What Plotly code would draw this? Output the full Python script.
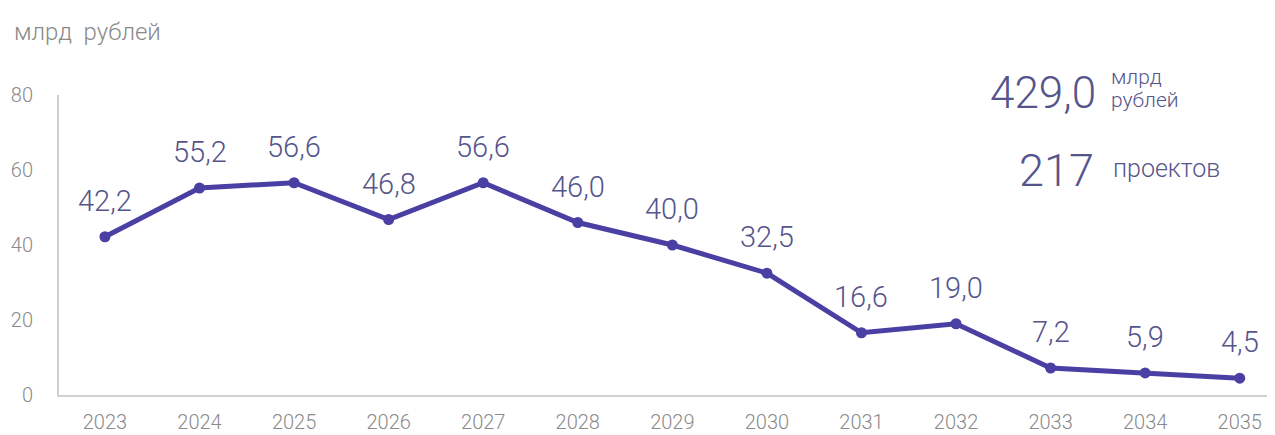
import plotly.graph_objects as go

years = [2023, 2024, 2025, 2026, 2027, 2028, 2029, 2030, 2031, 2032, 2033, 2034, 2035]
values = [42.2, 55.2, 56.6, 46.8, 56.6, 46.0, 40.0, 32.5, 16.6, 19.0, 7.2, 5.9, 4.5]
y_ticks = [0, 20, 40, 60, 80]
unit_title = "млрд  рублей"
total_value = "429,0"
total_unit_top = "млрд"
total_unit_bottom = "рублей"
projects_count = "217"
projects_label = "проектов"

LINE = "#4a3fa3"
LABEL = "#55558c"
TICK = "#8a8a8a"
FONT = "Roboto"

def fmt(v):
    return f"{v:.1f}".replace(".", ",")

fig = go.Figure()
fig.add_trace(go.Scatter(
    x=years, y=values, mode="lines+markers",
    line=dict(color=LINE, width=5),
    marker=dict(color=LINE, size=11),
    hoverinfo="skip", showlegend=False,
))

for x, v in zip(years, values):
    fig.add_annotation(x=x, y=v, text=fmt(v), showarrow=False, yshift=36,
                       font=dict(family=FONT, size=29, color=LABEL, weight=300))

fig.add_annotation(xref="paper", yref="paper", x=-0.039, y=1.0, yshift=63,
                   xanchor="left", yanchor="middle", text=unit_title, showarrow=False,
                   font=dict(family=FONT, size=24, color=TICK, weight=300))

fig.add_annotation(xref="paper", yref="paper", x=0.858, y=1.0, xanchor="right", yanchor="middle",
                   yshift=2, text=total_value, showarrow=False,
                   font=dict(family=FONT, size=44, color=LABEL, weight=300))
fig.add_annotation(xref="paper", yref="paper", x=0.867, y=1.0, xanchor="left", yanchor="middle",
                   yshift=18, text=total_unit_top, showarrow=False,
                   font=dict(family=FONT, size=21, color=LABEL, weight=300))
fig.add_annotation(xref="paper", yref="paper", x=0.867, y=1.0, xanchor="left", yanchor="middle",
                   yshift=-5, text=total_unit_bottom, showarrow=False,
                   font=dict(family=FONT, size=21, color=LABEL, weight=300))
fig.add_annotation(xref="paper", yref="paper", x=0.856, y=1.0, xanchor="right", yanchor="middle",
                   yshift=-75, text=projects_count, showarrow=False,
                   font=dict(family=FONT, size=45, color=LABEL, weight=300))
fig.add_annotation(xref="paper", yref="paper", x=0.869, y=1.0, xanchor="left", yanchor="middle",
                   yshift=-73, text=projects_label, showarrow=False,
                   font=dict(family=FONT, size=25, color=LABEL, weight=300))

# the page body adds an 8px offset, so the figure is sized/margined to compensate
fig.update_layout(
    width=1267, height=427,
    margin=dict(l=51, r=5, t=87, b=40, autoexpand=False),
    paper_bgcolor="white", plot_bgcolor="white",
    font=dict(family=FONT),
    xaxis=dict(range=[2022.514, 2035.32], tickmode="array", tickvals=years,
               ticktext=[str(y) for y in years], showgrid=False, zeroline=False,
               showline=True, linecolor="#d0d0d0", linewidth=2, ticks="",
               ticklabelstandoff=8, automargin=False,
               tickfont=dict(family=FONT, size=20, color=TICK, weight=300)),
    yaxis=dict(range=[0, 80], tickmode="array", tickvals=y_ticks, showgrid=False,
               zeroline=False, showline=True, linecolor="#d0d0d0", linewidth=2,
               ticks="", ticklabelstandoff=20, automargin=False,
               tickfont=dict(family=FONT, size=20, color=TICK, weight=300)),
)

fig.write_html("out.html")
